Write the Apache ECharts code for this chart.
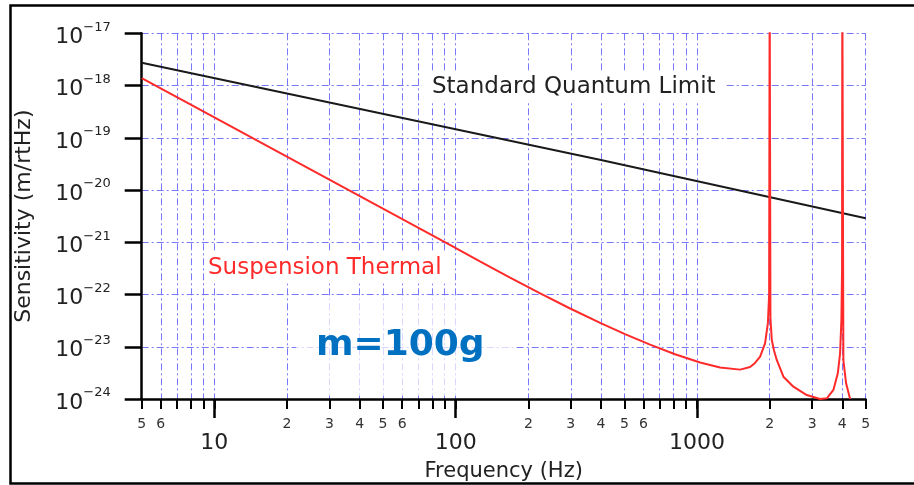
<!DOCTYPE html>
<html>
<head>
<meta charset="utf-8">
<script src="https://cdn.jsdelivr.net/npm/echarts@6/dist/echarts.min.js"></script>
<style>
html, body { margin: 0; padding: 0; background: #fff; }
#chart { width: 914px; height: 485px; }
</style>
</head>
<body>
<div id="chart"></div>
<script>
// values: frequency in Hz, sensitivity in m/rtHz
const sqlFreq = [5, 400, 5000];
const sqlValue = [2.74e-18, 3.76e-20, 2.88e-21];

const thermalFreq = [5, 10, 93, 126, 168, 224, 298, 397, 503, 639, 811, 1030, 1246, 1509, 1659, 1740, 1826, 1914,
  1966, 1990, 2000, 2015, 2041, 2087, 2140, 2280, 2508, 2850, 3236, 3450, 3674, 3832, 3916, 3965, 3990, 4000,
  4041, 4147, 4309];
const thermalValue = [1.39e-18, 2.45e-19, 9.3e-22, 4.31e-22, 2.1e-22, 1.05e-22, 5.4e-23, 2.87e-23, 1.75e-23,
  1.1e-23, 7.19e-24, 5.01e-24, 4.02e-24, 3.65e-24, 4.09e-24, 4.89e-24, 6.46e-24, 1.16e-23,
  2.8e-23, 1.0e-22, 1e-16, 3.5e-23, 1.35e-23, 8.3e-24, 5.6e-24, 2.67e-24, 1.72e-24, 1.19e-24, 1.0e-24, 1.03e-24,
  1.49e-24, 3.1e-24, 7.5e-24, 3.25e-23, 3e-22, 1e-16,
  5.57e-24, 2.0e-24, 1.0e-24];

// tick marks
const gridFreq = [5, 6, 7, 8, 9, 10, 20, 30, 40, 50, 60, 70, 80, 90, 100, 200, 300, 400, 500, 600, 700, 800, 900,
  1000, 2000, 3000, 4000, 5000];
const minorLabels = [5, 6, 20, 30, 40, 50, 60, 200, 300, 400, 500, 600, 2000, 3000, 4000, 5000];
const decadeFreq = [10, 100, 1000];
const yTicks = [1e-24, 1e-23, 1e-22, 1e-21, 1e-20, 1e-19, 1e-18, 1e-17];

const FONT = "DejaVu Sans";
const gridLine = { color: "#7878ff", width: 1, type: [7, 3, 2, 3] };

let chart = echarts.init(document.getElementById("chart"));
chart.setOption({
  animation: false,
  backgroundColor: "#fff",
  textStyle: { fontFamily: FONT },
  grid: { left: 141.7, right: 48.3, top: 33.3, bottom: 86, outerBoundsMode: "none" },
  xAxis: [
    {
      type: "log",
      min: 5,
      max: 5000,
      name: "Frequency (Hz)",
      nameLocation: "middle",
      nameGap: 62,
      nameTextStyle: { fontSize: 21, color: "#222", fontFamily: FONT },
      axisLine: { lineStyle: { color: "#000", width: 2.5 } },
      axisTick: { customValues: gridFreq, length: 10, lineStyle: { color: "#000", width: 2 } },
      axisLabel: {
        customValues: minorLabels,
        margin: 18,
        fontSize: 14,
        color: "#333",
        fontFamily: FONT,
        formatter: (v) => String(Math.round(v / Math.pow(10, Math.floor(Math.log10(v) + 1e-9)))),
      },
      splitLine: { show: true, lineStyle: gridLine },
    },
    {
      type: "log",
      min: 5,
      max: 5000,
      position: "bottom",
      axisLine: { show: false },
      axisTick: { customValues: decadeFreq, length: 19, lineStyle: { color: "#000", width: 2.5 } },
      axisLabel: {
        customValues: decadeFreq,
        margin: 33,
        fontSize: 22,
        color: "#222",
        fontFamily: FONT,
        formatter: (v) => String(Math.round(v)),
      },
      splitLine: { show: false },
    },
  ],
  yAxis: {
    type: "log",
    min: 1e-24,
    max: 1e-17,
    name: "Sensitivity (m/rtHz)",
    nameLocation: "middle",
    nameGap: 106,
    nameTextStyle: { fontSize: 22, color: "#222", fontFamily: FONT },
    axisLine: { lineStyle: { color: "#000", width: 2.5 } },
    axisTick: { customValues: yTicks, length: 17, lineStyle: { color: "#000", width: 2.5 } },
    axisLabel: {
      customValues: yTicks,
      margin: 31,
      formatter: (v) => "{b|10}{s|\u2212" + (-Math.round(Math.log10(v))) + "}",
      rich: {
        b: { fontSize: 22, color: "#222", fontFamily: FONT, padding: [8, 0, 0, 0] },
        s: { fontSize: 13, color: "#222", fontFamily: FONT, padding: [0, 0, 12, 0] },
      },
    },
    splitLine: { show: true, lineStyle: gridLine },
  },
  series: [
    {
      name: "Standard Quantum Limit",
      type: "line",
      showSymbol: false,
      data: sqlFreq.map((f, i) => [f, sqlValue[i]]),
      lineStyle: { color: "#1a1a1a", width: 2 },
      z: 3,
    },
    {
      name: "Suspension Thermal",
      type: "line",
      showSymbol: false,
      data: thermalFreq.map((f, i) => [f, thermalValue[i]]),
      lineStyle: { color: "#ff2a2a", width: 2 },
      z: 4,
    },
  ],
  graphic: [
    {
      type: "rect",
      z: 100,
      shape: { x: 10.5, y: 5.5, width: 920, height: 478 },
      style: { fill: "none", stroke: "#000", lineWidth: 2.5 },
    },
    {
      type: "text",
      z: 50,
      x: 422,
      y: 87,
      style: {
        text: "Standard Quantum Limit",
        font: "23px 'DejaVu Sans'",
        fill: "#222",
        verticalAlign: "middle",
        backgroundColor: "#fff",
        padding: [4, 10, 4, 10],
      },
    },
    {
      type: "text",
      z: 50,
      x: 204,
      y: 268,
      style: {
        text: "Suspension Thermal",
        font: "23px 'DejaVu Sans'",
        fill: "#ff2a2a",
        verticalAlign: "middle",
        backgroundColor: "#fff",
        padding: [4, 4, 4, 4],
      },
    },
    {
      type: "text",
      z: 50,
      x: 296,
      y: 346,
      style: {
        text: "m=100g",
        font: "bold 36px 'DejaVu Sans'",
        fill: "#0070c0",
        verticalAlign: "middle",
        backgroundColor: "rgba(255,255,255,0.7)",
        padding: [30, 30, 34, 20],
      },
    },
  ],
});
</script>
</body>
</html>
